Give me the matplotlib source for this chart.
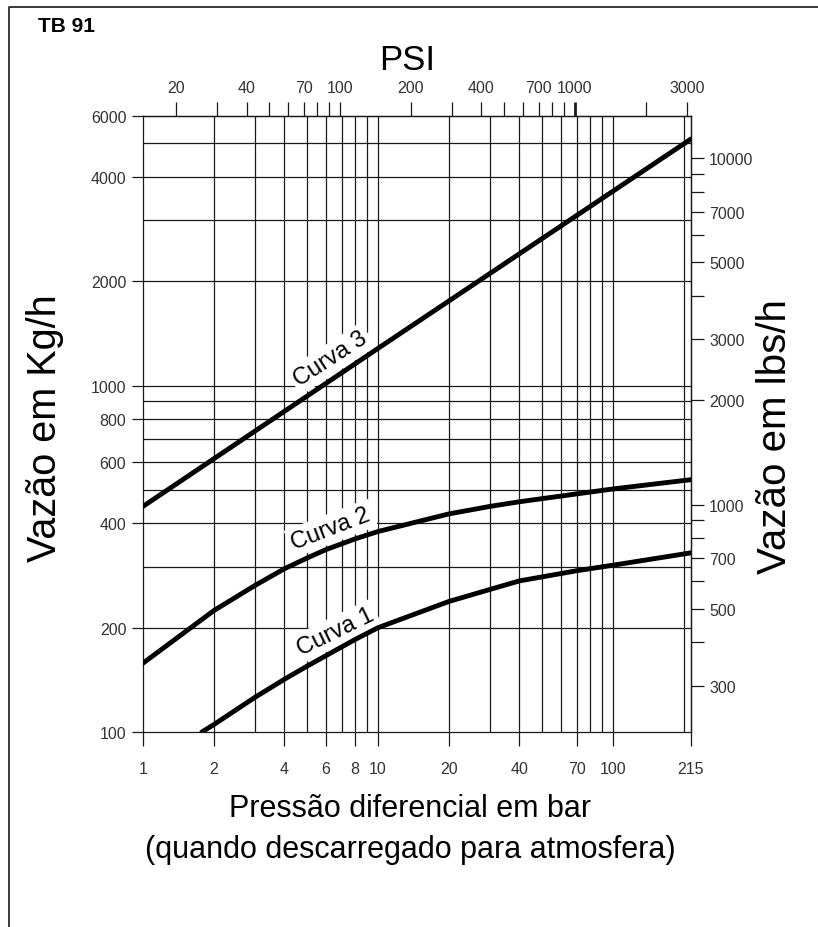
import matplotlib
matplotlib.use("Agg")
import matplotlib.pyplot as plt
from matplotlib.lines import Line2D

# curves: pressure (bar) vs flow (kg/h)
curva1_bar = [1.78, 2, 3, 4, 5, 6, 8, 10, 20, 30, 40, 70, 100, 215]
curva1_kg = [100, 105, 126, 142, 155, 166, 185, 200, 238, 258, 273, 292, 303, 329]

curva2_bar = [1, 2, 3, 4, 5, 6, 8, 10, 20, 30, 40, 100, 215]
curva2_kg = [158, 224, 265, 296, 318, 336, 361, 379, 426, 448, 462, 503, 535]

curva3_bar = [1, 10, 215]
curva3_kg = [448, 1280, 5150]

# grid and axes
grid_x = [2, 3, 4, 5, 6, 7, 8, 9, 10, 20, 30, 40, 50, 60, 70, 80, 90, 100, 200]
grid_y = [200, 300, 400, 500, 600, 700, 800, 900, 1000, 2000, 3000, 4000, 5000]
x_ticks = [1, 2, 4, 6, 8, 10, 20, 40, 70, 100, 215]
y_ticks = [100, 200, 400, 600, 800, 1000, 2000, 4000, 6000]
psi_ticks = [20, 30, 40, 50, 60, 70, 80, 90, 100, 200, 300, 400, 500, 600,
             700, 800, 900, 1000, 2000, 3000]
psi_labels = [20, 40, 70, 100, 200, 400, 700, 1000, 3000]
lbs_ticks = [300, 400, 500, 600, 700, 800, 900, 1000, 2000, 3000, 4000,
             5000, 6000, 7000, 8000, 9000, 10000]
lbs_labels = [300, 500, 700, 1000, 2000, 3000, 5000, 7000, 10000]

BAR_TO_PSI = 14.5038
KG_TO_LB = 2.20462

TICK_FONT = ["Liberation Sans", "DejaVu Sans"]
MAIN_FONT = ["Liberation Sans", "DejaVu Sans"]
INK = "#1a1a1a"
TCOL = "#333333"

fig = plt.figure(figsize=(8.18, 9.28), dpi=100)
W, H = 818, 928
ax = fig.add_axes([143 / W, 1 - 733 / H, 548 / W, 616 / H])
ax.set_xscale("log")
ax.set_yscale("log")
ax.set_xlim(1, 215)
ax.set_ylim(100, 6000)

for gx in grid_x:
    ax.axvline(gx, color=INK, lw=0.9, zorder=1)
for gy in grid_y:
    ax.axhline(gy, color=INK, lw=0.9, zorder=1)
for sp in ax.spines.values():
    sp.set_color(INK)
    sp.set_linewidth(0.9)

# bottom / left ticks
ax.set_xticks(x_ticks)
ax.set_xticklabels([str(v) for v in x_ticks])
ax.set_xticks([], minor=True)
ax.set_yticks(y_ticks)
ax.set_yticklabels([str(v) for v in y_ticks])
ax.set_yticks([], minor=True)
ax.tick_params(axis="x", direction="out", length=10, width=0.9, pad=11,
               labelsize=11.5, labelcolor=TCOL, color=INK, labelfontfamily=TICK_FONT)
ax.tick_params(axis="y", direction="out", length=8, width=0.9, pad=4,
               labelsize=11.5, labelcolor=TCOL, color=INK, labelfontfamily=TICK_FONT)

# top axis in PSI
top = ax.secondary_xaxis("top", functions=(lambda b: b * BAR_TO_PSI,
                                           lambda p: p / BAR_TO_PSI))
top.set_xticks(psi_ticks)
top.set_xticklabels([str(v) if v in psi_labels else "" for v in psi_ticks])
top.set_xticks([], minor=True)
top.tick_params(direction="out", length=10, width=0.9, pad=5, labelsize=11.5,
                labelcolor=TCOL, color=INK, labelfontfamily=TICK_FONT)
top.spines["top"].set_linewidth(0.9)
for t, v in zip(top.xaxis.get_major_ticks(), psi_ticks):
    if v == 1000:
        t.tick2line.set_markeredgewidth(2.0)
        t.tick1line.set_markeredgewidth(2.0)

# right axis in lbs/h
right = ax.secondary_yaxis("right", functions=(lambda k: k * KG_TO_LB,
                                               lambda l: l / KG_TO_LB))
right.set_yticks(lbs_ticks)
right.set_yticklabels([str(v) if v in lbs_labels else "" for v in lbs_ticks])
right.set_yticks([], minor=True)
right.tick_params(direction="out", length=9, width=0.9, pad=4, labelsize=11.5,
                  labelcolor=TCOL, color=INK, labelfontfamily=TICK_FONT)
right.spines["right"].set_linewidth(0.9)

# curves
for xs, ys in [(curva1_bar, curva1_kg), (curva2_bar, curva2_kg), (curva3_bar, curva3_kg)]:
    ax.plot(xs, ys, color="black", lw=3.5, solid_capstyle="round",
            solid_joinstyle="round", zorder=5)

box = dict(facecolor="white", edgecolor="none", pad=2.5)
ax.text(6.3, 1195, "Curva 3", rotation=33, ha="center", va="center",
        fontsize=17, family=MAIN_FONT, bbox=box, zorder=3)
ax.text(6.3, 387, "Curva 2", rotation=21, ha="center", va="center",
        fontsize=17, family=MAIN_FONT, bbox=box, zorder=3)
ax.text(6.6, 195, "Curva 1", rotation=26, ha="center", va="center",
        fontsize=17, family=MAIN_FONT, bbox=box, zorder=3)

# titles
fig.text(38 / W, 1 - 26 / H, "TB 91", fontsize=15, fontweight="bold",
         family=MAIN_FONT, ha="left", va="center")
fig.text(407 / W, 1 - 61 / H, "PSI", fontsize=25, family=MAIN_FONT,
         ha="center", va="center")
fig.text(45 / W, 1 - 428 / H, "Vaz\u00e3o em Kg/h", fontsize=28.5, rotation=90,
         family=MAIN_FONT, ha="center", va="center")
fig.text(775 / W, 1 - 437 / H, "Vaz\u00e3o em lbs/h", fontsize=29, rotation=90,
         family=MAIN_FONT, ha="center", va="center")
fig.text(410 / W, 1 - 809 / H, "Press\u00e3o diferencial em bar", fontsize=22,
         family=MAIN_FONT, ha="center", va="center")
fig.text(410 / W, 1 - 850 / H, "(quando descarregado para atmosfera)", fontsize=22,
         family=MAIN_FONT, ha="center", va="center")

# page frame (left and top edges)
fig.add_artist(Line2D([9 / W, 9 / W, 1], [0, 1 - 8 / H, 1 - 8 / H],
                      transform=fig.transFigure, color=INK, lw=1.2))

fig.savefig("out.png", dpi=100)
